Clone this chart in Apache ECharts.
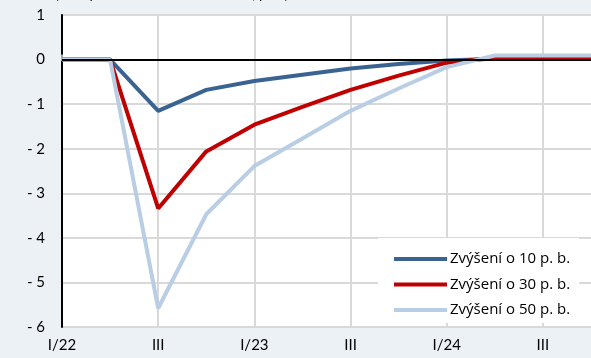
<!DOCTYPE html>
<html><head><meta charset="utf-8">
<script src="https://cdn.jsdelivr.net/npm/echarts@6/dist/echarts.min.js"></script>
<style>html,body{margin:0;padding:0;background:#ECF1F6;}#c{width:591px;height:358px;}</style>
</head><body><div id="c"></div>
<script>
const categories = ["I/22","II","III","IV","I/23","II","III","IV","I/24","II","III","IV"];
const seriesNames = ["Zvýšení o 10 p. b.","Zvýšení o 30 p. b.","Zvýšení o 50 p. b."];
const rise10 = [0, 0, -1.15, -0.68, -0.48, -0.34, -0.2, -0.1, -0.02, 0.02, 0.02, 0.02];
const rise30 = [0, 0, -3.34, -2.06, -1.46, -1.06, -0.68, -0.36, -0.07, 0.04, 0.04, 0.04];
const rise50 = [0, 0, -5.58, -3.47, -2.39, -1.77, -1.15, -0.65, -0.17, 0.09, 0.09, 0.09];
const yTicks = [1, 0, -1, -2, -3, -4, -5, -6];
const titleText = "(odchylka od základního scénáře, p. b.)";

const FONT = "Lato";
const chart = echarts.init(document.getElementById('c'), null, {renderer:'canvas'});
chart.setOption({
  backgroundColor: '#ECF1F6',
  animation: false,
  textStyle: {fontFamily: FONT},
  graphic: [{type:'text', left: 55, top: -13, style:{text: titleText, fontFamily: FONT, fontSize: 14, fill:'#000'}}],
  grid: {left: 62, top: 15, bottom: 31, right: -2, show: true, backgroundColor: '#fff', borderWidth: 0},
  legend: {
    orient: 'vertical', left: 378, top: 238,
    backgroundColor: '#fff', padding: [11, 9, 3, 16], itemGap: 5.5,
    itemWidth: 53, itemHeight: 4, icon: 'rect', itemStyle: {borderWidth: 0},
    textStyle: {fontFamily: 'Open Sans', fontSize: 15, lineHeight: 20, color: '#000', padding: [0,0,0,-2]},
    data: seriesNames
  },
  xAxis: {
    type: 'category', data: categories, boundaryGap: false,
    axisLine: {lineStyle: {color: '#D9D9D9', width: 2}},
    axisTick: {show: true, inside: true, length: 5, interval: 1, lineStyle: {color: '#D9D9D9', width: 1.5}},
    axisLabel: {interval: 1, margin: 11, fontFamily: FONT, fontSize: 15, color: '#000'},
    splitLine: {show: true, interval: 1, lineStyle: {color: '#D9D9D9', width: 2}}
  },
  yAxis: {
    type: 'value', min: -6, max: 1, interval: 1,
    axisLine: {show: true, lineStyle: {color: '#000', width: 2}},
    axisTick: {show: false},
    axisLabel: {margin: 17, fontFamily: FONT, fontSize: 15, color: '#000',
      formatter: v => yTicks.includes(v) ? (v < 0 ? '- ' + Math.abs(v) : String(v)) : ''},
    splitLine: {show: true, lineStyle: {color: '#D9D9D9', width: 2}}
  },
  series: [
    {name: 'zero', type: 'line', data: [], z: 1, symbol: 'none',
     markLine: {silent: true, symbol: 'none', label: {show: false}, lineStyle: {color: '#000', width: 2, type: 'solid'}, data: [{yAxis: 0}]}},
    {name: seriesNames[0], type: 'line', data: rise10, z: 3, symbol: 'none', lineStyle: {color: '#3A6392', width: 4}, itemStyle: {color: '#3A6392'}},
    {name: seriesNames[1], type: 'line', data: rise30, z: 3, symbol: 'none', lineStyle: {color: '#C00000', width: 4}, itemStyle: {color: '#C00000'}},
    {name: seriesNames[2], type: 'line', data: rise50, z: 3, symbol: 'none', lineStyle: {color: '#B9CDE5', width: 4}, itemStyle: {color: '#B9CDE5'}}
  ]
});
</script></body></html>
